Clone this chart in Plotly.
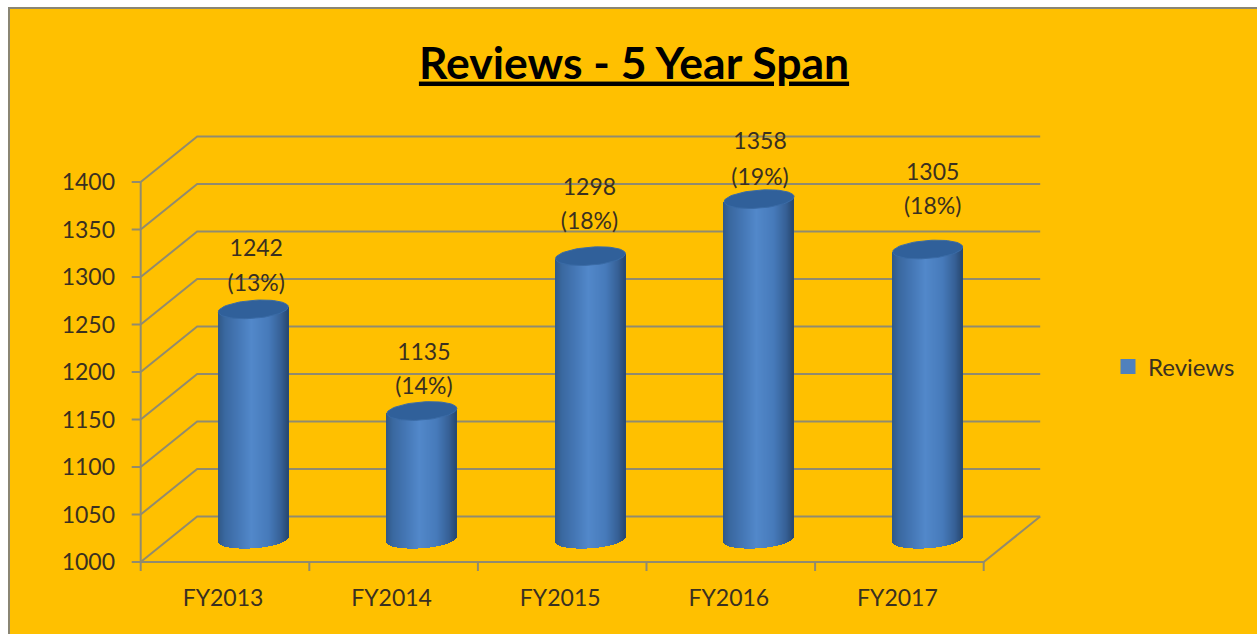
import math
import plotly.graph_objects as go

# ---- data ----
categories = ["FY2013", "FY2014", "FY2015", "FY2016", "FY2017"]
reviews = [1242, 1135, 1298, 1358, 1305]
shares = ["(13%)", "(14%)", "(18%)", "(19%)", "(18%)"]
y_ticks = [1000, 1050, 1100, 1150, 1200, 1250, 1300, 1350, 1400]
title = "Reviews - 5 Year Span"
series_name = "Reviews"

# ---- geometry (pixels) ----
W, H = 1257, 634
BG, GRID, TXT = "#FFC000", "#918B6E", "#3A3020"
FONT = "Lato"
P_L, P_R, P_T, P_B = 116, 1045, 126, 582     # plot area
X0_PX, X_STEP = 225.0, 168.6                 # pixel of category 0, per category
Y0_PX, Y_SCALE = 562.0, 0.95                 # pixel of value 1000, px per unit
DEPTH_X, DEPTH_Y = 56.5, 45.5                # wall offset
BAR_R, ELL_B, TILT = 35.0, 9.0, 2.5
N = 70
# hand placement of the data labels (pixels, per bar)
label_shift_x = [3, 2, -1, 1, 5]
value_lift = [59, 57, 67, 56, 75]
share_lift = [24, 23, 33, 20, 41]

dx = lambda px: px / X_STEP
dv = lambda px: px / Y_SCALE
x_range = [(P_L - X0_PX) / X_STEP, (P_R - X0_PX) / X_STEP]
y_range = [1000 - dv(P_B - Y0_PX), 1000 + dv(Y0_PX - P_T)]
x_pos = list(range(len(categories)))
x_left, x_right = -0.5, len(categories) - 0.5
vmin = y_ticks[0]; vmax = y_ticks[-1]


def shade(u):
    stops = [(-1.0, (48, 88, 134)), (-0.8, (58, 104, 160)), (-0.45, (68, 118, 180)), (-0.05, (82, 136, 202)),
             (0.45, (70, 122, 186)), (0.8, (54, 96, 150)), (1.0, (40, 72, 112))]
    for (a, ca), (b, cb) in zip(stops, stops[1:]):
        if a <= u <= b:
            t = (u - a) / (b - a)
            return "rgb(%d,%d,%d)" % tuple(round(p + (q - p) * t) for p, q in zip(ca, cb))
    return "rgb(82,136,202)"


fig = go.Figure()

# cylinder bodies: vertical strips across every bar
for i in range(N):
    u = -1 + (i + 0.5) * 2 / N
    bulge = ELL_B * math.sqrt(max(0, 1 - u * u))
    xs = [p + dx(DEPTH_X / 2) + dx(BAR_R * u) for p in x_pos]
    base_v = vmin + dv(DEPTH_Y / 2 - bulge + TILT * u)
    top = [v + dv(DEPTH_Y / 2 + TILT * u) for v in reviews]
    fig.add_trace(go.Bar(
        x=xs, y=[t - base_v for t in top], base=[base_v] * len(xs),
        width=dx(2 * BAR_R / N * 1.25),
        marker=dict(color=shade(u), line=dict(width=0)),
        showlegend=False, hoverinfo="skip"))

# cylinder caps
for p, v in zip(x_pos, reviews):
    cx, cy = [], []
    for k in range(73):
        a = 2 * math.pi * k / 72
        c, s = math.cos(a), math.sin(a)
        cx.append(p + dx(DEPTH_X / 2) + dx(BAR_R * c))
        cy.append(v + dv(DEPTH_Y / 2 + TILT * c + ELL_B * s))
    fig.add_trace(go.Scatter(x=cx, y=cy, mode="lines", fill="toself", fillcolor="#30609A",
                             line=dict(color="#3A6BA6", width=1), showlegend=False, hoverinfo="skip"))

# data labels
label_x = [p + dx(DEPTH_X / 2 + s) for p, s in zip(x_pos, label_shift_x)]
fig.add_trace(go.Scatter(x=label_x, y=[v + dv(DEPTH_Y / 2 + l) for v, l in zip(reviews, value_lift)], mode="text",
                         text=[str(v) for v in reviews], textposition="middle center",
                         textfont=dict(family=FONT, size=23, color=TXT), showlegend=False, hoverinfo="skip"))
fig.add_trace(go.Scatter(x=label_x, y=[v + dv(DEPTH_Y / 2 + l) for v, l in zip(reviews, share_lift)], mode="text",
                         text=shares, textposition="middle center",
                         textfont=dict(family=FONT, size=23, color=TXT), showlegend=False, hoverinfo="skip"))

# legend entry
fig.add_trace(go.Scatter(x=[None], y=[None], mode="markers", name=series_name,
                         marker=dict(symbol="square", size=15, color="#4F81BD")))

# background frame, walls, grid, axis lines (below the cylinders)
line = dict(color=GRID, width=2)
shapes = [dict(type="rect", xref="paper", yref="paper", x0=9 / W, x1=1.02, y0=-0.02, y1=1 - 8 / H,
               fillcolor=BG, line=dict(color="#8A8674", width=2), layer="below")]
for t in y_ticks:
    shapes.append(dict(type="path", xref="x", yref="y", layer="below", line=line,
                       path="M %f,%f L %f,%f L %f,%f" % (
                           x_left, t, x_left + dx(DEPTH_X), t + dv(DEPTH_Y),
                           x_right + dx(DEPTH_X), t + dv(DEPTH_Y))))
    shapes.append(dict(type="line", xref="x", yref="y", layer="below", line=line,
                       x0=x_left - dx(9), x1=x_left, y0=t, y1=t))
shapes.append(dict(type="line", xref="x", yref="y", layer="below", line=line,
                   x0=x_left, x1=x_left, y0=vmin, y1=vmax))
shapes.append(dict(type="path", xref="x", yref="y", layer="below", line=line,
                   path="M %f,%f L %f,%f L %f,%f" % (
                       x_left, vmin, x_right, vmin, x_right + dx(DEPTH_X), vmin + dv(DEPTH_Y))))
for k in range(len(categories) + 1):
    shapes.append(dict(type="line", xref="x", yref="y", layer="below", line=line,
                       x0=x_left + k, x1=x_left + k, y0=vmin, y1=vmin - dv(9)))

fig.update_layout(
    width=W, height=H, autosize=False,
    margin=dict(l=0, r=0, t=0, b=0),
    paper_bgcolor="white", plot_bgcolor="rgba(0,0,0,0)",
    barmode="overlay", bargap=0,
    shapes=shapes,
    title=dict(text="<b><u>%s</u></b>" % title, x=634 / W, xanchor="center", y=1 - 63 / H, yanchor="middle",
               font=dict(family=FONT, size=44.5, color="#000000")),
    xaxis=dict(domain=[P_L / W, P_R / W], range=x_range, tickmode="array",
               tickvals=[p - dx(2) for p in x_pos],
               ticktext=categories, showgrid=False, zeroline=False, showline=False, ticks="",
               tickfont=dict(family=FONT, size=23, color=TXT), fixedrange=True),
    yaxis=dict(domain=[1 - P_B / H, 1 - P_T / H], range=y_range, tickmode="array", tickvals=y_ticks,
               showgrid=False, zeroline=False, showline=False, ticks="",
               tickfont=dict(family=FONT, size=23, color=TXT), fixedrange=True),
    legend=dict(x=1108 / W, y=1 - 367 / H, xanchor="left", yanchor="middle", bgcolor="rgba(0,0,0,0)",
                font=dict(family=FONT, size=24, color=TXT)),
    showlegend=True,
)

fig.write_html("out.html", config=dict(displayModeBar=False),
               post_script="document.body.style.margin='0';document.documentElement.style.overflow='hidden';")
